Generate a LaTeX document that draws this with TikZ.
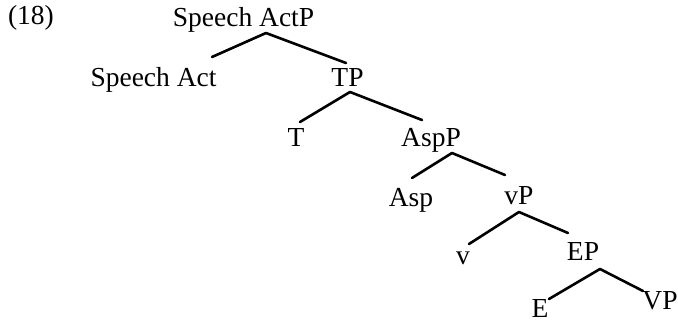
\documentclass[tikz,border=0pt]{standalone}
\usepackage{fontspec}
\setmainfont{Liberation Serif}
\begin{document}
\begin{tikzpicture}[x=1pt,y=-1pt,
  lab/.style={anchor=base,inner sep=0pt,font=\fontsize{27.5}{30}\selectfont},
  branch/.style={line width=2.6pt,line cap=round,line join=round}]
\useasboundingbox (0,0) rectangle (678,326);
\node[lab] (ex) at (31,25) {(18)};
\node[lab] (sap) at (243.5,27) {Speech ActP};
\node[lab] (sa) at (153.5,87) {Speech Act};
\node[lab] (tp) at (347.5,87) {TP};
\node[lab] (t) at (296,147) {T};
\node[lab] (aspp) at (431,147) {AspP};
\node[lab] (asp) at (411,207) {Asp};
\node[lab] (vp) at (519,205) {vP};
\node[lab] (v) at (463,265) {v};
\node[lab] (ep) at (583,260) {EP};
\node[lab] (e) at (540,317) {E};
\node[lab] (bigvp) at (660,309) {VP};
% apexes and branch ends
\coordinate (sapA) at (266,33);
\coordinate (sapL) at (212,57);
\coordinate (sapR) at (346,63);
\coordinate (tpA) at (350,92);
\coordinate (tpL) at (300,122);
\coordinate (tpR) at (422,120);
\coordinate (asppA) at (452,153);
\coordinate (asppL) at (412,178);
\coordinate (asppR) at (505,175);
\coordinate (vpA) at (519,212);
\coordinate (vpL) at (469,244);
\coordinate (vpR) at (568,233);
\coordinate (epA) at (600,269);
\coordinate (epL) at (549,299);
\coordinate (epR) at (643,291);
\draw[branch] (sapL) -- (sapA) -- (sapR);
\draw[branch] (tpL) -- (tpA) -- (tpR);
\draw[branch] (asppL) -- (asppA) -- (asppR);
\draw[branch] (vpL) -- (vpA) -- (vpR);
\draw[branch] (epL) -- (epA) -- (epR);
\end{tikzpicture}
\end{document}
